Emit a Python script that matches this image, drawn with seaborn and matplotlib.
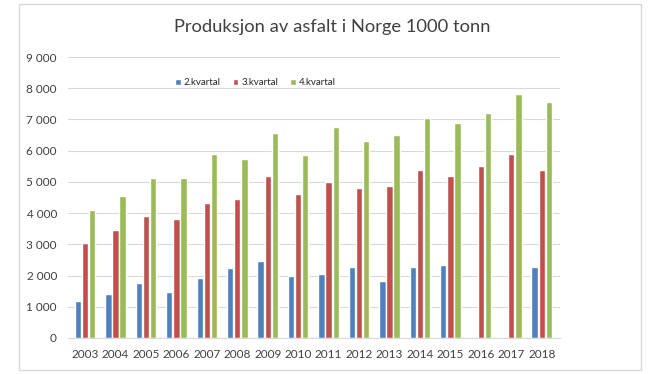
import matplotlib
matplotlib.use("Agg")
import numpy as np
import pandas as pd
import matplotlib.pyplot as plt
from matplotlib.ticker import FuncFormatter, MultipleLocator
from matplotlib.patches import Rectangle
import seaborn as sns

years = [str(y) for y in range(2003, 2019)]
kv2 = [1200, 1420, 1750, 1470, 1920, 2230, 2470, 1980, 2040, 2290, 1830, 2290, 2330, np.nan, np.nan, 2290]
kv3 = [3050, 3460, 3900, 3820, 4320, 4450, 5200, 4600, 5000, 4820, 4870, 5390, 5190, 5510, 5900, 5390]
kv4 = [4100, 4550, 5120, 5120, 5880, 5720, 6570, 5860, 6750, 6310, 6490, 7040, 6900, 7220, 7820, 7550]
series = ["2.kvartal", "3.kvartal", "4.kvartal"]
colors = ["#4F81BD", "#C0504D", "#9BBB59"]

df = pd.DataFrame({"år": years, series[0]: kv2, series[1]: kv3, series[2]: kv4})
df = df.melt(id_vars="år", var_name="serie", value_name="tonn")

sns.set_style("white")
plt.rcParams["font.family"] = ["Lato", "DejaVu Sans"]

fig = plt.figure(figsize=(6.64, 3.74), dpi=100)
fig.patches.append(Rectangle((19 / 664, 4 / 374), 622 / 664, 366 / 374, transform=fig.transFigure,
                             fill=False, edgecolor="#D9D9D9", linewidth=1))
ax = fig.add_axes([68 / 664, 1 - 338 / 374, 492 / 664, 281 / 374])

sns.barplot(data=df, x="år", y="tonn", hue="serie", palette=colors, width=0.7,
            gap=0.1, ax=ax, saturation=1)

ax.set_ylim(0, 9000)
ax.set_xlim(-0.56, 15.6)
ax.yaxis.set_major_locator(MultipleLocator(1000))
ax.yaxis.set_major_formatter(FuncFormatter(lambda v, p: f"{int(v):,}".replace(",", " ")))
ax.grid(axis="y", color="#D9D9D9", linewidth=0.8)
ax.set_axisbelow(True)
for s in ["top", "right", "left"]:
    ax.spines[s].set_visible(False)
ax.spines["bottom"].set_color("#D9D9D9")
ax.tick_params(axis="both", length=0, labelsize=8.5, colors="#404040")
ax.tick_params(axis="x", pad=8)
ax.tick_params(axis="y", pad=8)
ax.set_xlabel("")
ax.set_ylabel("")

ax.legend(loc="upper left", bbox_to_anchor=(0.2, 0.955), ncol=3, frameon=False,
          fontsize=7, handlelength=0.6, handleheight=0.6, columnspacing=1.2, handletextpad=0.3)

fig.text(0.5, 1 - 27 / 374, "Produksjon av asfalt i Norge 1000 tonn", ha="center", va="center",
         fontsize=13.2, color="#404040")

fig.savefig("out.png", dpi=100)
